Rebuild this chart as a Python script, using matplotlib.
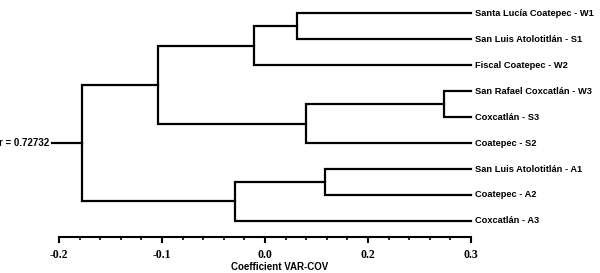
import matplotlib
matplotlib.use("Agg")
import matplotlib.pyplot as plt
from matplotlib.ticker import MultipleLocator

# ---- data ----
leaves = ["Santa Lucía Coatepec - W1", "San Luis Atolotitlán - S1", "Fiscal Coatepec - W2",
          "San Rafael Coxcatlán - W3", "Coxcatlán - S3", "Coatepec - S2",
          "San Luis Atolotitlán - A1", "Coatepec - A2", "Coxcatlán - A3"]
leaf_end = 0.2
# merges: (left node, right node, coefficient); leaves are 0..8, merges 9..
merge_left = [0, 9, 3, 11, 10, 6, 14, 13]
merge_right = [1, 2, 4, 5, 12, 7, 8, 15]
merge_height = [0.031, -0.011, 0.174, 0.040, -0.104, 0.058, -0.029, -0.178]
root_stub = -0.207
r_label = "r = 0.72732"
tick_values = [-0.2, -0.1, 0.0, 0.1, 0.2]
tick_labels = ["-0.2", "-0.1", "0.0", "0.2", "0.3"]
xlabel = "Coefficient VAR-COV"

fig = plt.figure(figsize=(6.0, 2.73), dpi=100)
ax = fig.add_axes([59/600, 1-237/273, 412/600, 237/273])

n = len(leaves)
pos_x = {i: leaf_end for i in range(n)}
pos_y = {i: float(i) for i in range(n)}
lw = 1.6
for k, (a, b, h) in enumerate(zip(merge_left, merge_right, merge_height)):
    node = n + k
    ax.plot([pos_x[a], h, h, pos_x[b]], [pos_y[a], pos_y[a], pos_y[b], pos_y[b]],
            color="black", lw=lw, solid_joinstyle="miter", clip_on=False)
    pos_x[node] = h
    pos_y[node] = (pos_y[a] + pos_y[b]) / 2

root = n + len(merge_height) - 1
ax.plot([root_stub, pos_x[root]], [pos_y[root], pos_y[root]], color="black", lw=lw, clip_on=False)
ax.text(root_stub - 0.002, pos_y[root], r_label, ha="right", va="center",
        fontsize=7, fontweight="bold", family="Liberation Sans")

for i, name in enumerate(leaves):
    ax.text(leaf_end + 0.004, i, name, ha="left", va="center",
            fontsize=6.7, fontweight="bold", family="Liberation Sans")

ax.set_xlim(-0.2, 0.2)
ax.set_ylim(8.62, -0.52)
for s in ["top", "right", "left"]:
    ax.spines[s].set_visible(False)
ax.spines["bottom"].set_linewidth(1.5)
ax.set_yticks([])
ax.set_xticks(tick_values)
ax.set_xticklabels(tick_labels, family="Liberation Serif", fontweight="bold", fontsize=8.5)
ax.xaxis.set_minor_locator(MultipleLocator(0.02))
ax.tick_params(axis="x", which="major", length=4, width=1.5, pad=5)
ax.tick_params(axis="x", which="minor", length=2.5, width=1.2)
ax.set_xlabel(xlabel, fontsize=7, fontweight="bold", family="Liberation Sans")
ax.xaxis.set_label_coords((280 - 59) / 412, -(267 - 237) / 237, transform=ax.transAxes)
ax.xaxis.label.set_va("center")

fig.savefig("out.png", dpi=100)
